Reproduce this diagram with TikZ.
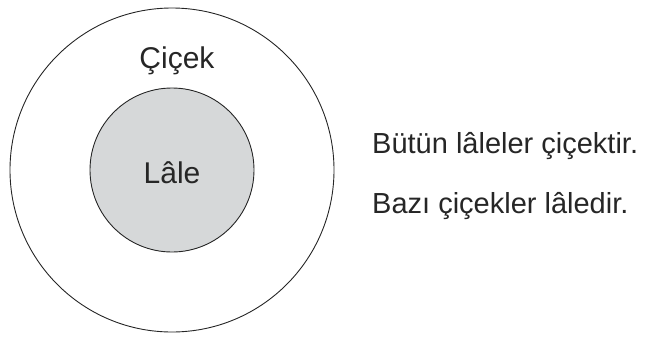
\documentclass[tikz,border=0pt]{standalone}
\usepackage{fontspec}
\setmainfont{Liberation Sans}
\usetikzlibrary{positioning}
\definecolor{lalegray}{RGB}{214,216,217}
\tikzset{
	kume/.style={circle, draw=black!85, line width=0.9pt, inner sep=0pt},
	etiket/.style={font=\fontsize{30}{36}\selectfont, text=black!85},
	cumle/.style={font=\fontsize{29}{35}\selectfont, text=black!85, anchor=base west, inner sep=0pt}
}

\begin{document}
\begin{tikzpicture}[x=1pt, y=-1pt]
	\useasboundingbox (0,0) rectangle (649,338);
	\node [kume, minimum size=324pt] (cicek) at (172,170) {};
	\node [kume, fill=lalegray, minimum size=164pt] (lale) at (172,170) {};
	
	\node [etiket, anchor=base, inner sep=0pt] (cicekad) at (177,68) {Çiçek};
	\node [etiket, anchor=base, inner sep=0pt] (lalead) at (172,183) {Lâle};
	
	\node [cumle] (bir) at (372,153) {Bütün lâleler çiçektir.};
	\node [cumle] (iki) at (372,213) {Bazı çiçekler lâledir.};
\end{tikzpicture}
\end{document}
